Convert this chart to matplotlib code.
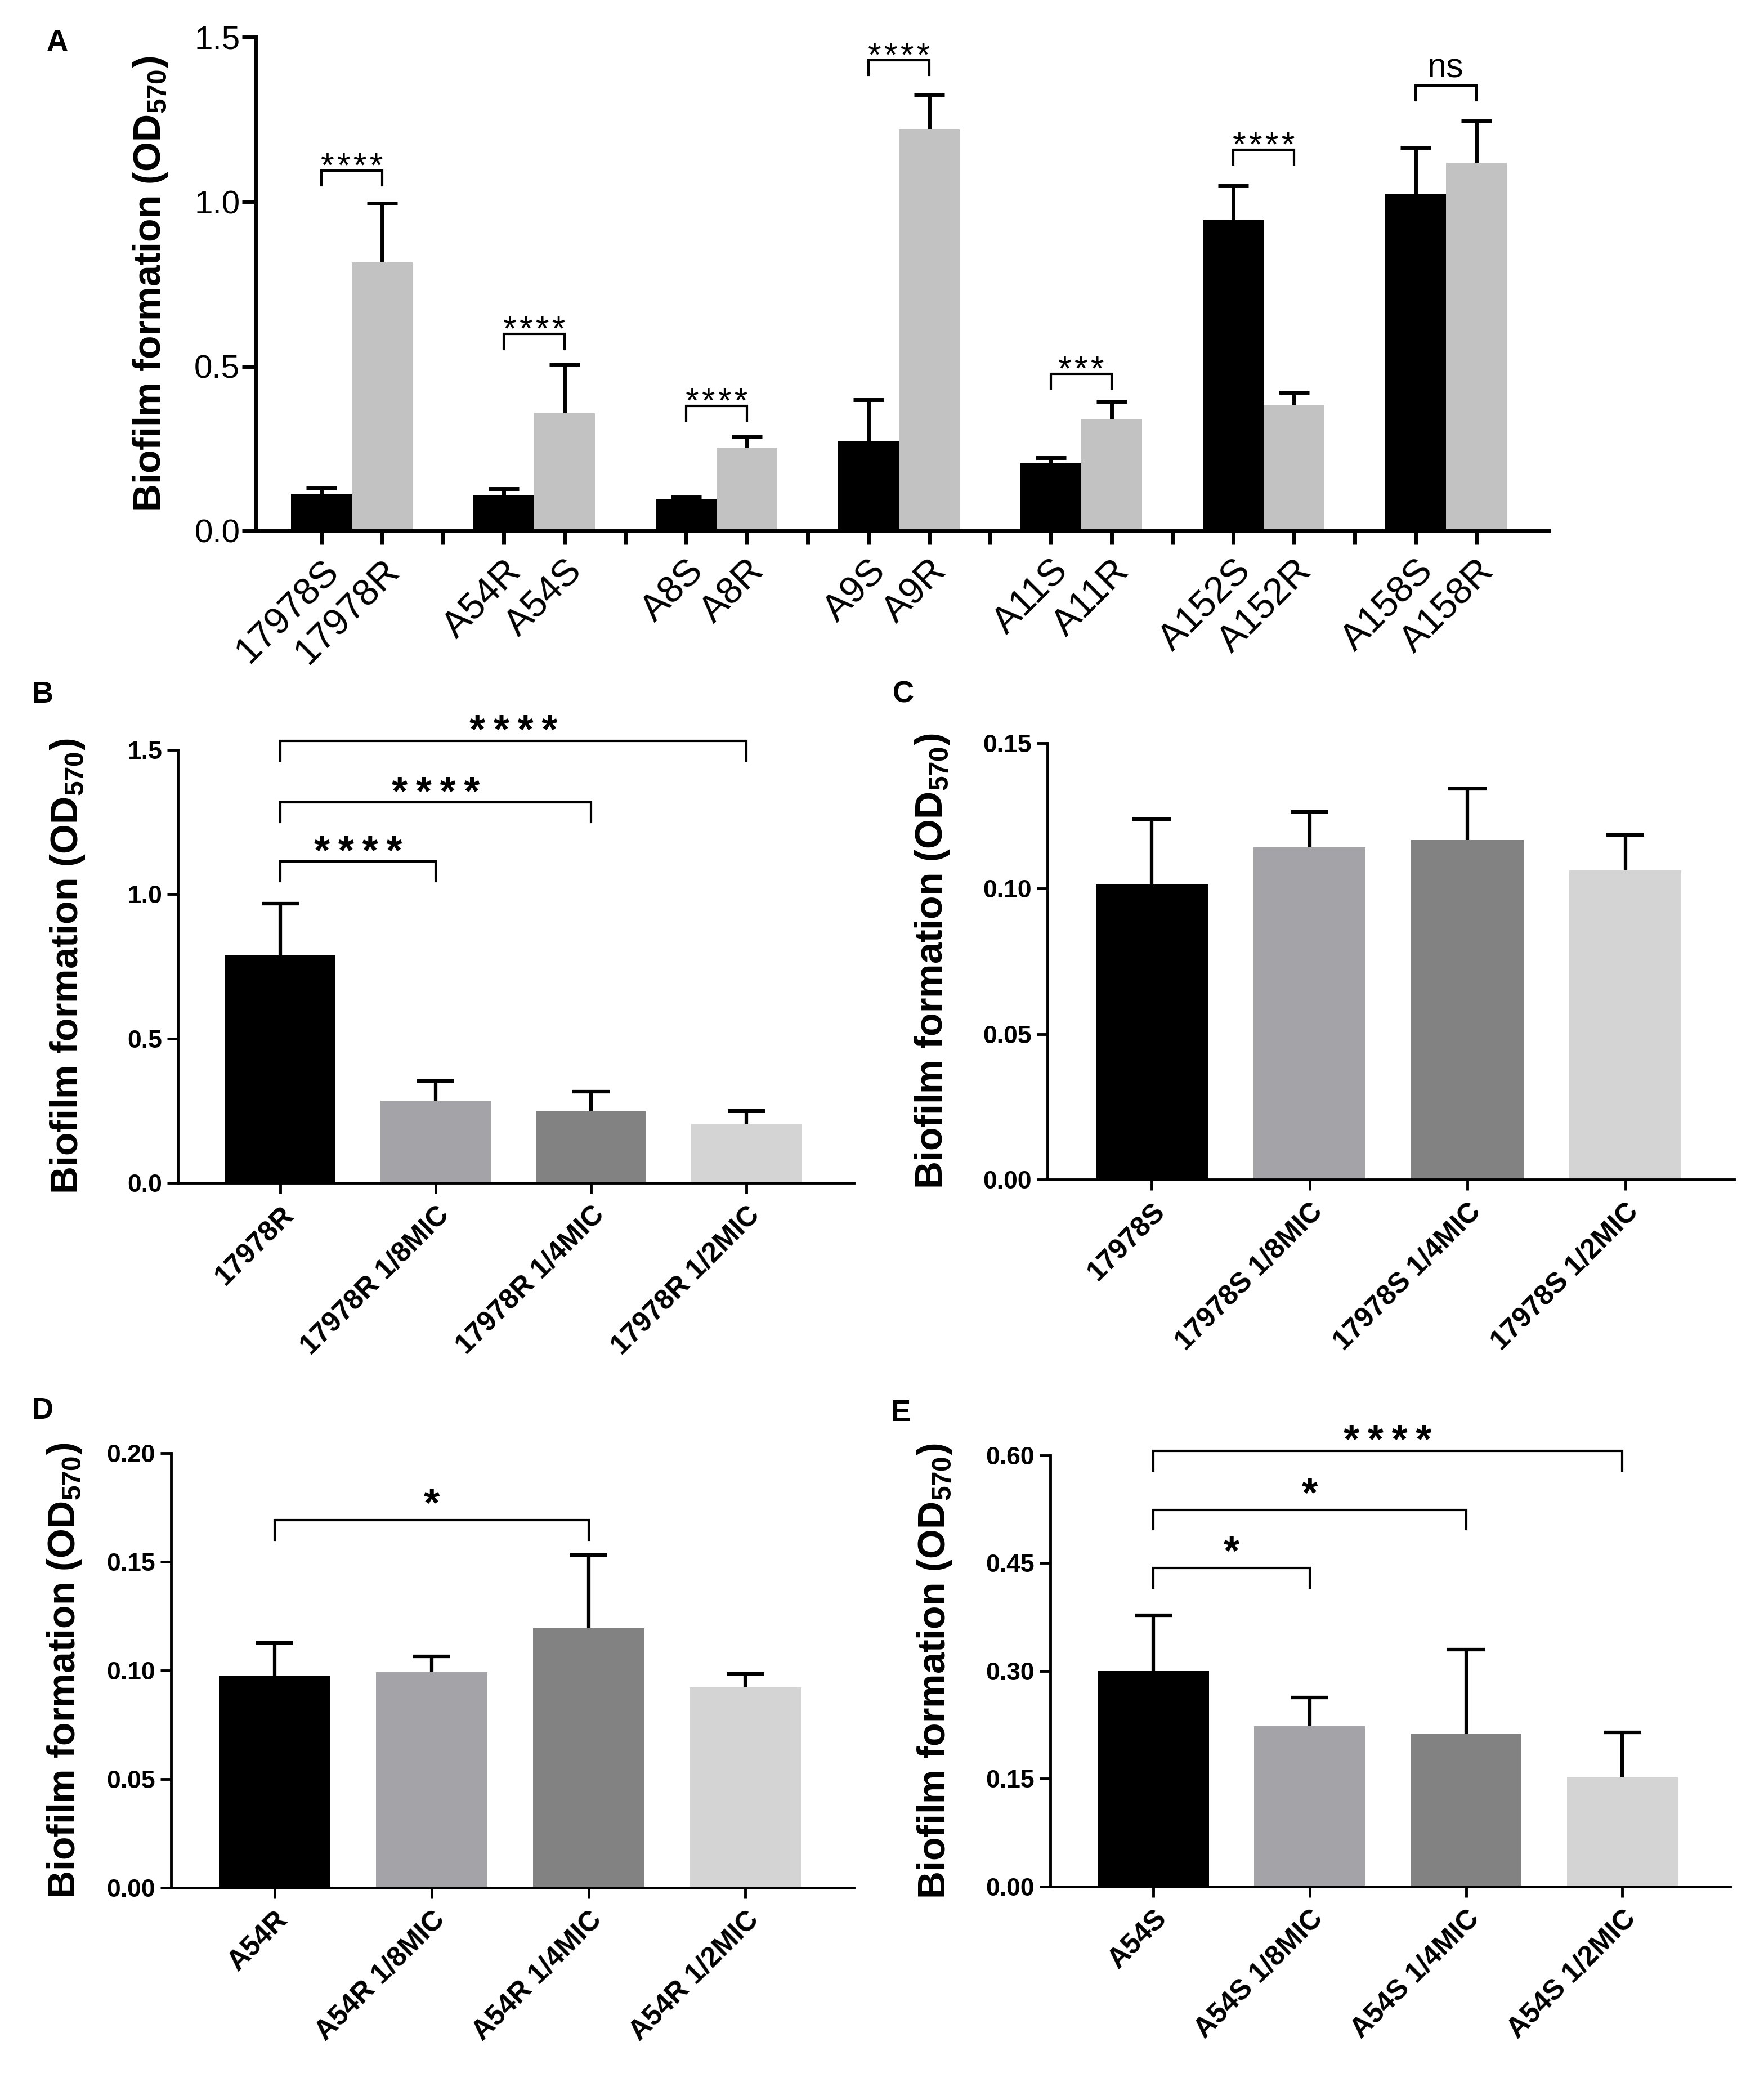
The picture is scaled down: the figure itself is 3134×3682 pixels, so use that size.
import numpy as np
import matplotlib
matplotlib.use("Agg")
import matplotlib.pyplot as plt

plt.rcParams['font.family'] = ['Liberation Sans', 'DejaVu Sans']
plt.rcParams['mathtext.fontset'] = 'custom'
plt.rcParams['mathtext.rm'] = 'Liberation Sans'
plt.rcParams['mathtext.bf'] = 'Liberation Sans:bold'

# ---- panel A data (pairs: first bar black, second grey)
labels_a = ['17978S', '17978R', 'A54R', 'A54S', 'A8S', 'A8R', 'A9S', 'A9R',
            'A11S', 'A11R', 'A152S', 'A152R', 'A158S', 'A158R']
black_mean = [0.113, 0.107, 0.098, 0.272, 0.205, 0.944, 1.025]
black_err = [0.017, 0.021, 0.005, 0.126, 0.017, 0.104, 0.139]
grey_mean = [0.816, 0.358, 0.253, 1.220, 0.341, 0.383, 1.119]
grey_err = [0.179, 0.148, 0.033, 0.106, 0.052, 0.037, 0.126]
sig_a = ['****', '****', '****', '****', '***', '****', 'ns']
bracket_a = [1.095, 0.598, 0.380, 1.430, 0.477, 1.158, 1.353]

# ---- panels B-E
labels_b = ['17978R', '17978R 1/8MIC', '17978R 1/4MIC', '17978R 1/2MIC']
mean_b = [0.788, 0.284, 0.250, 0.204]
err_b = [0.180, 0.070, 0.066, 0.045]
sig_b = ['****', '****', '****']
bracket_b = [1.113, 1.318, 1.531]
target_b = [1, 2, 3]

labels_c = ['17978S', '17978S 1/8MIC', '17978S 1/4MIC', '17978S 1/2MIC']
mean_c = [0.1014, 0.1142, 0.1168, 0.1062]
err_c = [0.0225, 0.0122, 0.0175, 0.0122]

labels_d = ['A54R', 'A54R 1/8MIC', 'A54R 1/4MIC', 'A54R 1/2MIC']
mean_d = [0.0976, 0.0993, 0.1194, 0.0923]
err_d = [0.0152, 0.0072, 0.0337, 0.0061]
sig_d = ['*']
bracket_d = [0.1692]
target_d = [2]

labels_e = ['A54S', 'A54S 1/8MIC', 'A54S 1/4MIC', 'A54S 1/2MIC']
mean_e = [0.2997, 0.223, 0.213, 0.152]
err_e = [0.078, 0.040, 0.117, 0.0625]
sig_e = ['*', '*', '****']
bracket_e = [0.443, 0.524, 0.606]
target_e = [1, 2, 3]

bar_colors = ['#000000', '#a4a3a8', '#828282', '#d4d4d4']
ylabel = r'Biofilm formation (OD$_\mathbf{570}$)'

fig = plt.figure(figsize=(31.34, 36.82), dpi=100)


def style_axes(ax, lw, ticklen):
    for s in ['top', 'right']:
        ax.spines[s].set_visible(False)
    for s in ['left', 'bottom']:
        ax.spines[s].set_linewidth(lw)
    ax.tick_params(width=lw, length=ticklen, direction='out')


def err_up(ax, x, m, e, half, lw):
    x = np.asarray(x, float)
    m = np.asarray(m)
    e = np.asarray(e)
    ax.vlines(x, m, m + e, color='black', lw=lw, zorder=1)
    ax.hlines(m + e, x - half, x + half, color='black', lw=lw, zorder=1)


def bracket(ax, x0, x1, h, drop, text, lw, fs, weight, off, spaced):
    ax.plot([x0, x0, x1, x1], [h - drop, h, h, h - drop], color='black',
            lw=lw, clip_on=False, solid_joinstyle='miter')
    if text != 'ns':
        text = spaced.join(text)
    ax.annotate(text, xy=((x0 + x1) / 2, h), xytext=(0, off),
                textcoords='offset points', ha='center', va='baseline',
                fontsize=fs, fontweight=weight, annotation_clip=False)


# ================= panel A
ax = fig.add_axes([0.1449, 0.7439, 0.7333, 0.2382])
xb = np.arange(len(black_mean)) * 3
xg = xb + 1
ax.bar(xb, black_mean, width=1.0, color='black', zorder=2)
ax.bar(xg, grey_mean, width=1.0, color='#c2c2c2', zorder=2)
err_up(ax, xb, black_mean, black_err, 0.25, 5)
err_up(ax, xg, grey_mean, grey_err, 0.25, 5)
ax.set_xlim(-1.08, 20.2)
ax.set_ylim(0, 1.5)
style_axes(ax, 5, 17)
ticks = np.arange(20)
ticklabels = []
it = iter(labels_a)
for t in ticks:
    ticklabels.append('' if t % 3 == 2 else next(it))
ax.set_xticks(ticks, labels=ticklabels, rotation=45, ha='right',
              rotation_mode='anchor', fontsize=48)
ax.tick_params(axis='x', pad=12)
ax.set_yticks([0, 0.5, 1.0, 1.5], labels=['0.0', '0.5', '1.0', '1.5'],
              fontsize=42, family=['Liberation Sans Narrow', 'Liberation Sans'])
ax.tick_params(axis='y', pad=3)
ax.set_ylabel(ylabel, fontsize=49, fontweight='bold')
ax.yaxis.set_label_coords(-0.0666, 0.5)
for i in range(len(xb)):
    off = 10 if sig_a[i] == 'ns' else -8
    bracket(ax, xb[i], xg[i], bracket_a[i], 0.045, sig_a[i], 3, 44,
            'normal', off, '\u200a')


# ================= panels B-E
def small_panel(rect, labels, means, errs, ylim, yticks, fmt, lab_x,
                sigs=(), heights=(), targets=()):
    ax = fig.add_axes(rect)
    x = np.arange(len(labels))
    ax.bar(x, means, width=0.71, color=bar_colors, zorder=2)
    err_up(ax, x, means, errs, 0.12, 4.5)
    ax.set_xlim(-0.66, 3.69)
    ax.set_ylim(0, ylim)
    style_axes(ax, 3.5, 14)
    ax.set_xticks(x, labels=labels, rotation=45, ha='right',
                  rotation_mode='anchor', fontsize=36, fontweight='bold')
    ax.tick_params(axis='x', pad=10)
    ax.set_yticks(yticks, labels=[fmt % v for v in yticks], fontsize=32,
                  fontweight='bold')
    ax.tick_params(axis='y', pad=6)
    ax.set_ylabel(ylabel, fontsize=49, fontweight='bold')
    ax.yaxis.set_label_coords(lab_x, 0.5)
    for s, h, t in zip(sigs, heights, targets):
        off = -3 if len(s) > 1 else 5
        bracket(ax, 0, t, h, 0.045 * ylim, s, 3, 52, 'bold', off, '\u2009')
    return ax


small_panel([0.1008, 0.4294, 0.3832, 0.2088], labels_b, mean_b, err_b, 1.5,
            [0, 0.5, 1.0, 1.5], '%.1f', -0.135, sig_b, bracket_b, target_b)
small_panel([0.5938, 0.4310, 0.3893, 0.2105], labels_c, mean_c, err_c, 0.15,
            [0, 0.05, 0.10, 0.15], '%.2f', -0.140)
small_panel([0.0970, 0.0894, 0.3870, 0.2096], labels_d, mean_d, err_d, 0.20,
            [0, 0.05, 0.10, 0.15, 0.20], '%.2f', -0.128, sig_d, bracket_d,
            target_d)
small_panel([0.5954, 0.0899, 0.3854, 0.2081], labels_e, mean_e, err_e, 0.60,
            [0, 0.15, 0.30, 0.45, 0.60], '%.2f', -0.1416, sig_e, bracket_e,
            target_e)

# panel letters
for letter, px, py in [('A', 102, 76), ('B', 75, 1234), ('C', 1605, 1234),
                       ('D', 75, 2506), ('E', 1600, 2510)]:
    fig.text(px / 3134, 1 - py / 3682, letter, fontsize=38, fontweight='bold',
             ha='center', va='center')

fig.savefig('out.png', dpi=100, facecolor='white')
